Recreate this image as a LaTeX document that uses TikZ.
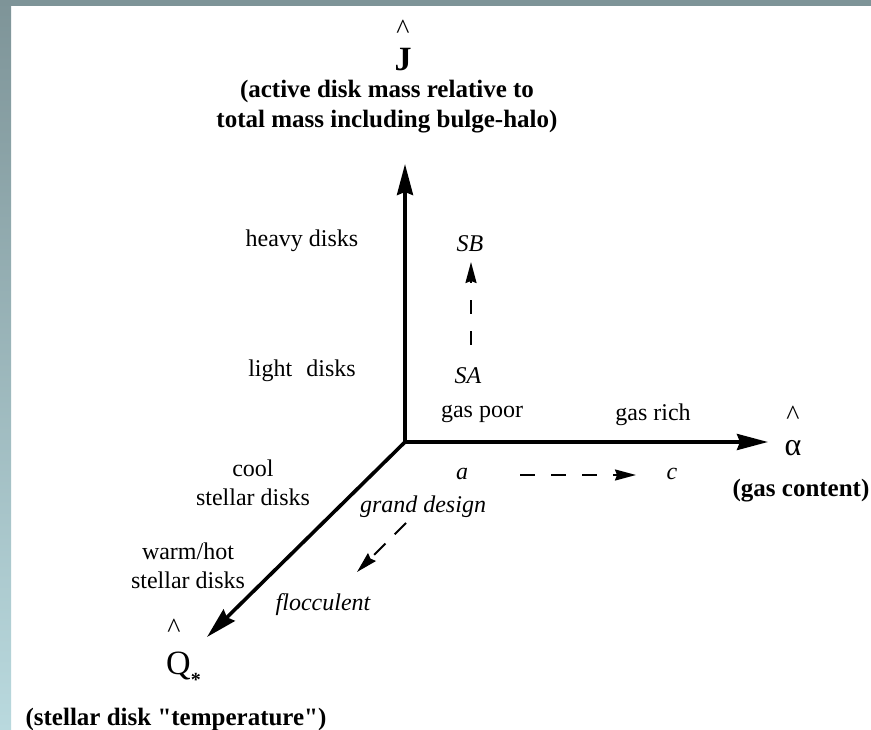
\documentclass[tikz,border=0pt]{standalone}
\usepackage{fontspec}
\setmainfont{Liberation Serif}
\usetikzlibrary{arrows.meta}
\definecolor{frametop}{RGB}{126,148,152}
\definecolor{framebot}{RGB}{185,217,222}
\begin{document}
\begin{tikzpicture}[x=1pt,y=-1pt,
  every node/.style={inner sep=0pt},
  axis/.style={line width=3.6pt,line cap=rect,-{Stealth[length=31pt,width=16pt,inset=3pt]}},
  dasharr/.style={line width=2pt,-{Stealth[length=21pt,width=11pt,inset=2pt]}},
  lab/.style={font=\fontsize{24}{29}\selectfont,align=center},
  ital/.style={font=\fontsize{24}{29}\selectfont\itshape},
  capt/.style={font=\fontsize{25}{30}\selectfont\bfseries,align=center},
  hatlab/.style={font=\fontsize{28}{28}\selectfont},
  sym/.style={font=\fontsize{35}{35}\selectfont}]
\useasboundingbox (0,0) rectangle (871,730);
\fill[white] (0,0) rectangle (871,730);
\shade[top color=frametop,bottom color=framebot] (0,0) rectangle (11,730);
\fill[frametop] (0,0) rectangle (871,6);

% axes
\coordinate (O) at (405,442);
\coordinate (Jt) at (405,164);
\coordinate (At) at (768,442);
\coordinate (Qt) at (207,637);
\draw[axis] (O) -- (Jt);
\draw[axis] (O) -- (At);
\draw[axis] (O) -- (Qt);

% axis labels
\node[hatlab] (hJ) at (403,29) {\textasciicircum};
\node[sym,font=\fontsize{34}{34}\selectfont\bfseries] (J) at (403,60) {J};
\node[capt] (capJ) at (387,107) {(active disk mass relative to\\ total mass including bulge-halo)};

\node[hatlab] (hA) at (793,415) {\textasciicircum};
\node[sym,font=\fontsize{32}{32}\selectfont] (al) at (793,448) {α};
\node[capt] (capA) at (801,491) {(gas content)};

\node[hatlab] (hQ) at (174,628) {\textasciicircum};
\node[sym,anchor=base west,font=\fontsize{34}{34}\selectfont] (Q) at (166,674) {Q\raisebox{-12pt}{\fontsize{20}{20}\selectfont\bfseries *}};
\node[capt] (capQ) at (176,719) {(stellar disk {\addfontfeatures{Ligatures=TeXOff}"temperature"})};

% side labels
\node[lab] (heavy) at (302,241) {heavy disks};
\node[lab] (light) at (302,371) {light\hspace{14pt}disks};
\node[lab] (cool) at (253,483) {cool\\stellar disks};
\node[lab] (warm) at (188,566) {warm/hot\\stellar disks};
\node[lab] (poor) at (482,414) {gas poor};
\node[lab] (rich) at (653,415) {gas rich};

% italic labels
\node[ital] (SB) at (470,244) {SB};
\node[ital] (SA) at (468,376) {SA};
\node[ital] (a) at (462,474) {a};
\node[ital] (c) at (672,474) {c};
\node[ital] (gd) at (423,507) {grand design};
\node[ital] (fl) at (323,605) {flocculent};

% dashed arrows
\coordinate (v0) at (471,345);
\coordinate (v1) at (471,262);
\draw[dasharr,dash pattern=on 14pt off 17pt] (v0) -- (v1);
\coordinate (h0) at (520,475);
\coordinate (h1) at (636,475);
\draw[dasharr,dash pattern=on 15pt off 16pt] (h0) -- (h1);
\coordinate (d0) at (406,523);
\coordinate (d1) at (357,572);
\draw[dasharr,dash pattern=on 16pt off 13pt] (d0) -- (d1);
\end{tikzpicture}
\end{document}
